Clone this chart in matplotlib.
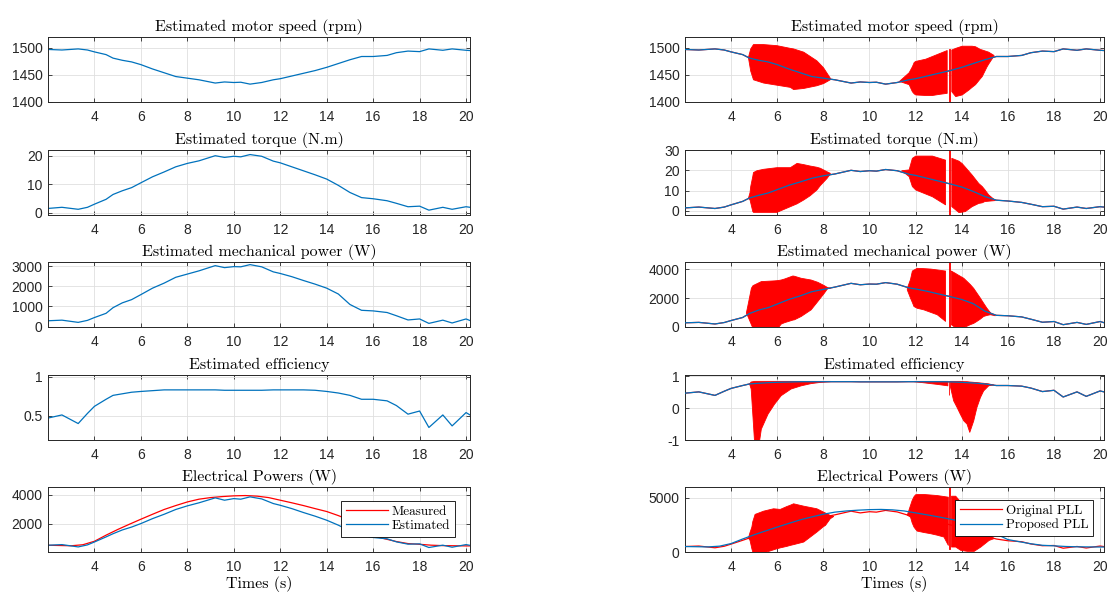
import numpy as np
import matplotlib
matplotlib.use("Agg")
import matplotlib.pyplot as plt

nan = np.nan

# ---- data ----
# estimated quantities (left column, proposed PLL on the right)
t_est = [2.0, 2.6, 3.3, 3.7, 4.0, 4.5, 4.8, 5.2, 5.6, 6.0, 6.5, 7.0, 7.5, 8.0, 8.5,
         9.2, 9.6, 10.0, 10.3, 10.7, 11.2, 11.7, 12.0, 12.5, 13.0, 13.5, 14.0, 14.5,
         15.0, 15.5, 16.0, 16.6, 17.0, 17.5, 18.0, 18.4, 19.0, 19.4, 20.0, 20.17]
speed = [1497, 1496, 1498, 1496, 1492.5, 1487.5, 1481, 1477, 1474, 1469, 1461, 1454, 1447,
         1444, 1441, 1435, 1437, 1436, 1436.5, 1433, 1436, 1441, 1443, 1448, 1453, 1458,
         1464, 1471, 1478, 1484, 1484, 1486, 1491, 1494, 1493, 1498, 1495.5, 1498, 1495.5, 1495]
torque = [1.5, 1.9, 1.2, 1.9, 3.0, 4.7, 6.4, 7.7, 8.8, 10.5, 12.6, 14.3, 16.1, 17.3, 18.2,
          20.0, 19.4, 19.8, 19.6, 20.4, 19.8, 18.1, 17.5, 16.1, 14.7, 13.3, 11.8, 9.6,
          7.1, 5.3, 4.9, 4.2, 3.3, 2.1, 2.3, 0.9, 1.9, 1.2, 2.1, 1.9]
mech_power = [290, 320, 210, 310, 450, 660, 940, 1180, 1340, 1590, 1910, 2160, 2450, 2610,
              2770, 3030, 2930, 2980, 2970, 3080, 2970, 2720, 2640, 2480, 2290, 2110, 1910,
              1620, 1100, 810, 780, 700, 540, 330, 380, 160, 320, 180, 380, 300]
efficiency = [0.47, 0.51, 0.40, 0.53, 0.62, 0.71, 0.76, 0.78, 0.80, 0.81, 0.82, 0.83, 0.83,
              0.83, 0.83, 0.83, 0.825, 0.825, 0.825, 0.825, 0.825, 0.83, 0.83, 0.83, 0.83,
              0.825, 0.81, 0.79, 0.76, 0.71, 0.71, 0.69, 0.63, 0.52, 0.56, 0.35, 0.51, 0.37,
              0.54, 0.51]
elec_est = [505, 550, 390, 530, 730, 1080, 1300, 1560, 1760, 2000, 2340, 2640, 2970, 3220,
            3430, 3770, 3610, 3720, 3680, 3840, 3700, 3380, 3260, 3030, 2760, 2510, 2230,
            1890, 1490, 1200, 1040, 950, 740, 580, 600, 350, 510, 370, 550, 500]

# measured electrical power
t_meas = [2.0, 3.0, 3.5, 4.0, 4.5, 5.0, 5.5, 6.0, 6.5, 7.0, 7.5, 8.0, 8.5, 9.0, 9.5, 10.0,
          10.5, 11.0, 11.5, 12.0, 12.5, 13.0, 13.5, 14.0, 14.5, 15.0, 15.5, 16.0, 16.5,
          17.0, 17.5, 18.0, 18.5, 19.0, 20.0, 20.17]
elec_meas = [505, 470, 540, 780, 1200, 1590, 1950, 2300, 2640, 2970, 3240, 3490, 3680, 3790,
             3860, 3910, 3930, 3890, 3790, 3610, 3430, 3240, 3030, 2830, 2550, 2230, 1650,
             1150, 950, 760, 620, 570, 510, 480, 460, 460]

# oscillating zones of the original PLL: upper / lower envelope (nan = break)
spd_osc_t = [4.75, 4.85, 4.97, 5.41, 5.99, 6.57, 6.71, 7.15, 7.72, 8.01, 8.3, nan,
             11.3, 11.72, 11.86, 11.94, 12.01, 12.44, 12.73, 13.02, 13.37, nan,
             13.44, 13.48, nan,
             13.57, 13.74, 14.02, 14.31, 14.45, 14.6, 14.81, 14.89, 15.1, 15.17, 15.4]
spd_osc_hi = [1482, 1498, 1506, 1506, 1504, 1499, 1498, 1492, 1476, 1463, 1444, nan,
              1438, 1454, 1465, 1473, 1475, 1479, 1484, 1489, 1495, nan,
              1498, 1498, nan,
              1496, 1499, 1503, 1503, 1503, 1502, 1497, 1496, 1493, 1492, 1486]
spd_osc_lo = [1482, 1457, 1441, 1435, 1431, 1427, 1423, 1425, 1430, 1434, 1441, nan,
              1438, 1432, 1419, 1415, 1413, 1412, 1412, 1414, 1416, nan,
              1370, 1370, nan,
              1419, 1410, 1413, 1422, 1427, 1432, 1443, 1447, 1465, 1470, 1485]

trq_osc_t = [4.75, 4.82, 4.85, 4.94, 4.97, 5.12, 5.41, 5.99, 6.57, 6.86, 7.15, 7.43, 7.72,
             7.87, 8.16, 8.3, nan,
             11.4, 11.72, 11.86, 12.01, 12.73, 13.3, nan,
             13.44, 13.48, nan,
             13.57, 13.88, 14.02, 14.16, 14.45, 14.74, 14.89, 15.0, 15.17, 15.46]
trq_osc_hi = [6.2, 9, 12, 17, 18.9, 19.8, 20.5, 21.3, 21.3, 23.4, 22.8, 22.1, 21.5,
              21, 19.3, 18.5, nan,
              19.8, 20.2, 25.9, 27, 27, 25, nan,
              31, 31, nan,
              25.9, 24.5, 23.3, 21.5, 17.7, 13.5, 12, 10.5, 7.9, 5.1]
trq_osc_lo = [6.2, 5.4, 4, -0.3, -0.7, -0.7, -0.7, -0.7, 2.1, 3.5, 5.4, 7.5, 10.3,
              12.5, 16, 18.2, nan,
              19.8, 16.9, 12, 10.3, 7, 3, nan,
              -3, -3, nan,
              2.1, -0.8, -0.6, -0.3, 2.1, 3.7, 4.0, 4.6, 4.8, 5.1]

pwr_osc_t = [4.66, 4.73, 4.88, 4.95, 5.31, 5.88, 6.03, 6.17, 6.32, 6.68, 6.75, 7.04, 7.47,
             7.76, 8.04, 8.19, 8.3, nan,
             11.64, 11.78, 11.86, 11.93, 12.07, 12.36, 12.65, 12.94, 13.3, nan,
             13.44, 13.48, nan,
             13.55, 13.73, 13.8, 14.09, 14.37, 14.52, 14.66, 14.81, 14.95, 15.09, 15.24,
             15.31, 15.45]
pwr_osc_hi = [965, 1500, 2690, 2870, 3150, 3200, 3220, 3260, 3330, 3540, 3520, 3380, 3260,
              3100, 2870, 2730, 2680, nan,
              2680, 3300, 3880, 3950, 4070, 4050, 4020, 3960, 3880, nan,
              4700, 4700, nan,
              3880, 3720, 3650, 3380, 2950, 2680, 2350, 2000, 1650, 1310, 1000, 900, 780]
pwr_osc_lo = [965, 730, 160, -100, -100, -100, -100, 200, 300, 480, 500, 730, 1190,
              1770, 2340, 2680, 2680, nan,
              2570, 2000, 1700, 1420, 1300, 1190, 1020, 850, 390, nan,
              -100, -100, nan,
              160, -50, -50, -50, 160, 250, 390, 550, 730, 800, 850, 830, 780]

eff_osc_t = [4.8, 4.87, 4.95, 5.02, 5.22, 5.31, 5.6, 5.88, 6.17, 6.6, 7.04, 7.47, 7.9, 8.3, nan,
             11.95, 13.0, 13.4, nan,
             13.43, 13.47, nan,
             13.51, 13.65, 13.8, 13.94, 14.09, 14.23, 14.35, 14.52, 14.66, 14.81, 14.95,
             15.17, 15.38]
eff_osc_hi = [0.76, 0.82, 0.83, 0.84, 0.84, 0.84, 0.84, 0.84, 0.84, 0.84, 0.84, 0.84, 0.84,
              0.84, nan,
              0.84, 0.84, 0.84, nan,
              0.84, 0.84, nan,
              0.84, 0.84, 0.84, 0.84, 0.83, 0.83, 0.82, 0.81, 0.8, 0.79, 0.78, 0.76, 0.73]
eff_osc_lo = [0.76, 0.6, -0.3, -1.1, -1.1, -0.66, -0.19, 0.12, 0.39, 0.6, 0.7, 0.77, 0.81,
              0.83, nan,
              0.83, 0.74, 0.70, nan,
              0.4, 0.4, nan,
              0.67, 0.23, 0.02, -0.19, -0.4, -0.5, -0.76, -0.4, 0.02, 0.33, 0.54, 0.70, 0.73]

ele_osc_t = [4.75, 4.82, 4.9, 4.94, 5.04, 5.41, 5.84, 5.99, 6.13, 6.42, 6.57, 6.71, 7.15,
             7.72, 8.01, 8.09, 8.3, 8.45, nan,
             11.64, 11.78, 11.85, 11.93, 12.0, 12.07, 12.36, 12.65, 12.94, 13.23, 13.42, nan,
             13.45, 13.49, nan,
             13.56, 13.74, 13.96, 14.25, 14.54, 14.83, 15.19, 15.4]
ele_osc_hi = [1290, 1800, 2300, 2800, 3470, 3770, 3990, 3960, 3930, 4200, 4320, 4450, 4230,
              3990, 3680, 3600, 3370, 3280, nan,
              3400, 4300, 4750, 5100, 5280, 5300, 5310, 5260, 5210, 5120, 5060, nan,
              6100, 6100, nan,
              5150, 5150, 4600, 4000, 3400, 2700, 1700, 1230]
ele_osc_lo = [1290, 1070, 300, 0, -100, -100, 200, 300, 380, 520, 610, 680, 920,
              1840, 2350, 2450, 3070, 3280, nan,
              3400, 3220, 2700, 2300, 2100, 1930, 1800, 1690, 1550, 1380, 610, nan,
              300, 300, nan,
              460, 460, 150, 60, 60, 460, 1070, 1230]

titles = ['Estimated motor speed (rpm)', 'Estimated torque (N.m)',
          'Estimated mechanical power (W)', 'Estimated efficiency', 'Electrical Powers (W)']

# ---- style ----
plt.rcParams['font.family'] = 'Liberation Sans'
plt.rcParams['font.size'] = 10
serif = 'cmr10'
blue = '#0072BD'
red = '#FF0000'
dark = '#262626'

fig = plt.figure(figsize=(11.08, 5.95), dpi=100)

W, H = 1108.0, 595.0
tops = [37, 150, 262, 375, 487]
col_x = [(48, 422), (685, 419)]

axes = []
for c, (x0, w) in enumerate(col_x):
    col = []
    for r, top in enumerate(tops):
        ax = fig.add_axes([x0 / W, 1 - (top + 65) / H, w / W, 65 / H])
        col.append(ax)
    axes.append(col)


def style(ax, title, ylim, yticks, yticklabels=None):
    ax.set_xlim(2.0, 20.17)
    ax.set_xticks([4, 6, 8, 10, 12, 14, 16, 18, 20])
    ax.set_ylim(*ylim)
    ax.set_yticks(yticks)
    if yticklabels is not None:
        ax.set_yticklabels(yticklabels)
    ax.set_title(title, fontfamily=serif, fontsize=11.5, pad=4, color='black')
    ax.grid(True, color='#dfdfdf', linewidth=0.6)
    ax.set_axisbelow(True)
    ax.tick_params(direction='in', top=True, right=True, length=3, width=0.6,
                   colors=dark, labelsize=10)
    ax.tick_params(axis='x', pad=6)
    ax.tick_params(axis='y', pad=4)
    for s in ax.spines.values():
        s.set_color(dark)
        s.set_linewidth(0.7)


def osc(ax, t, hi, lo):
    ax.fill_between(t, lo, hi, color=red, linewidth=0.6, zorder=2)


lw = 0.9

# ---- left column ----
L = axes[0]
L[0].plot(t_est, speed, color=blue, lw=lw)
style(L[0], titles[0], (1400, 1520), [1400, 1450, 1500])
L[1].plot(t_est, torque, color=blue, lw=lw)
style(L[1], titles[1], (-0.8, 22), [0, 10, 20])
L[2].plot(t_est, mech_power, color=blue, lw=lw)
style(L[2], titles[2], (-20, 3210), [0, 1000, 2000, 3000])
L[3].plot(t_est, efficiency, color=blue, lw=lw)
style(L[3], titles[3], (0.19, 1.02), [0.5, 1], ['0.5', '1'])
L[4].plot(t_meas, elec_meas, color=red, lw=lw, label='Measured')
L[4].plot(t_est, elec_est, color=blue, lw=lw, label='Estimated')
style(L[4], titles[4], (40, 4520), [2000, 4000])
L[4].set_xlabel('Times (s)', fontfamily=serif, fontsize=11.5, labelpad=1)

# ---- right column ----
R = axes[1]
R[0].plot(t_est, speed, color=red, lw=lw)
osc(R[0], spd_osc_t, spd_osc_hi, spd_osc_lo)
R[0].plot(t_est, speed, color=blue, lw=lw, zorder=3)
style(R[0], titles[0], (1400, 1520), [1400, 1450, 1500])

R[1].plot(t_est, torque, color=red, lw=lw)
osc(R[1], trq_osc_t, trq_osc_hi, trq_osc_lo)
R[1].plot(t_est, torque, color=blue, lw=lw, zorder=3)
style(R[1], titles[1], (-2, 30), [0, 10, 20, 30])

R[2].plot(t_est, mech_power, color=red, lw=lw)
osc(R[2], pwr_osc_t, pwr_osc_hi, pwr_osc_lo)
R[2].plot(t_est, mech_power, color=blue, lw=lw, zorder=3)
style(R[2], titles[2], (0, 4510), [0, 2000, 4000])

R[3].plot(t_est, efficiency, color=red, lw=lw)
osc(R[3], eff_osc_t, eff_osc_hi, eff_osc_lo)
R[3].plot(t_est, efficiency, color=blue, lw=lw, zorder=3)
style(R[3], titles[3], (-1, 1.04), [-1, 0, 1], ['-1', '0', '1'])

R[4].plot(t_est, elec_est, color=red, lw=lw, label='Original PLL')
osc(R[4], ele_osc_t, ele_osc_hi, ele_osc_lo)
R[4].plot(t_meas, elec_meas, color=blue, lw=lw, zorder=3, label='Proposed PLL')
style(R[4], titles[4], (0, 6000), [0, 5000])
R[4].set_xlabel('Times (s)', fontfamily=serif, fontsize=11.5, labelpad=1)

for ax, anchor in [(L[4], (0.964, 0.785)), (R[4], (0.974, 0.80))]:
    leg = ax.legend(loc='upper right', bbox_to_anchor=anchor, borderaxespad=0,
                    prop={'family': serif, 'size': 9.5}, fancybox=False,
                    framealpha=1, edgecolor='black', handlelength=3.2,
                    borderpad=0.35, labelspacing=0.15, handletextpad=0.3)
    leg.get_frame().set_linewidth(0.6)
    leg.set_zorder(10)

fig.savefig('out.png', dpi=100)
